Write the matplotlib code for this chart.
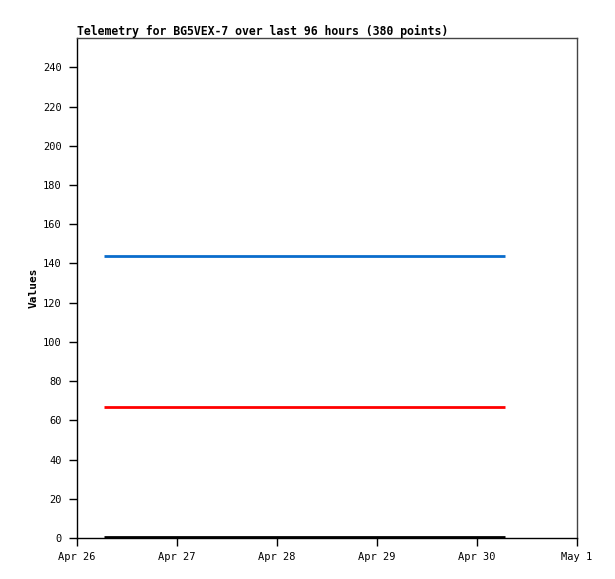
import matplotlib
matplotlib.use("Agg")
import matplotlib.pyplot as plt
import matplotlib.dates as mdates
from datetime import datetime

title = "Telemetry for BG5VEX-7 over last 96 hours (380 points)"
times = [datetime(2024, 4, 26, 6, 30), datetime(2024, 4, 30, 6, 40)]
blue_values = [144, 144]
red_values = [67, 67]
black_values = [0.5, 0.5]
x_tick_dates = [datetime(2024, 4, d) for d in (26, 27, 28, 29, 30)] + [datetime(2024, 5, 1)]
x_tick_labels = ["Apr 26", "Apr 27", "Apr 28", "Apr 29", "Apr 30", "May 1"]
y_ticks = list(range(0, 241, 20))

plt.rcParams['font.family'] = ['DejaVu Sans Mono']
fig = plt.figure(figsize=(6.15, 5.79), dpi=100)
ax = fig.add_axes([77/615, 41/579, 500/615, 500/579])

ax.plot(times, blue_values, color="#0a6ccc", lw=2, solid_capstyle="butt")
ax.plot(times, red_values, color="#ff0000", lw=2, solid_capstyle="butt")
ax.plot(times, black_values, color="#000000", lw=2, solid_capstyle="butt")

ax.set_xlim(datetime(2024, 4, 26), datetime(2024, 5, 1))
ax.set_ylim(0, 255)
ax.set_xticks(x_tick_dates)
ax.set_xticklabels(x_tick_labels)
ax.set_yticks(y_ticks)
ax.tick_params(axis="both", direction="out", length=6, width=1, labelsize=7.5, pad=5, colors="black")
ax.tick_params(axis="x", pad=4)
ax.set_ylabel("Values", fontsize=8, fontweight="bold", labelpad=3)
ax.set_title(title, fontsize=8.3, fontweight="bold", loc="left", pad=2)

for side in ("left", "bottom"):
    ax.spines[side].set_color("black")
for side in ("top", "right"):
    ax.spines[side].set_color("#444444")
for s in ax.spines.values():
    s.set_linewidth(1)

fig.savefig("out.png", dpi=100)
